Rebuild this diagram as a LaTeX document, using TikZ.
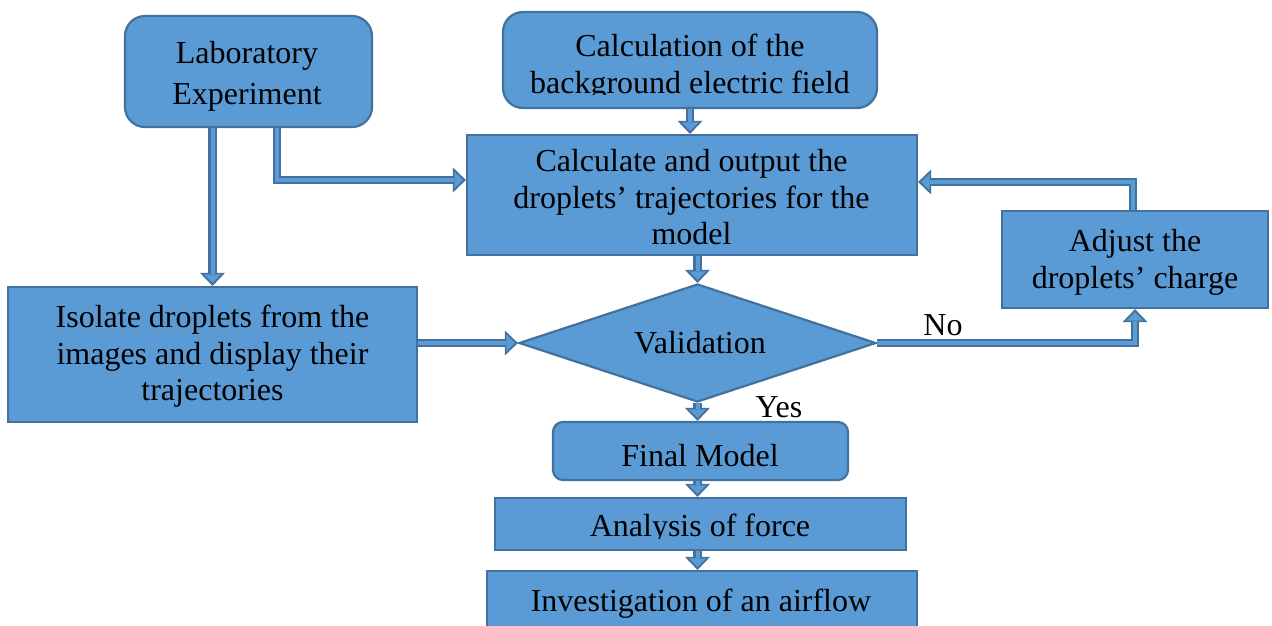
\documentclass[tikz,border=0pt]{standalone}
\usepackage{fontspec}
\setmainfont{Liberation Serif}
\usetikzlibrary{shapes.geometric,arrows.meta,calc}
\definecolor{boxfill}{HTML}{5B9BD5}
\definecolor{boxedge}{HTML}{41719C}
\tikzset{
  box/.style={draw=boxedge, fill=boxfill, line width=2.2pt, inner sep=0pt},
  txt/.style={align=center, inner sep=0pt, text=black, font=\fontsize{32}{36.5}\selectfont},
  connout/.style={draw=boxedge, line width=8.5pt, line join=miter,
    -{Triangle[width=25pt,length=13pt,line width=0pt]}},
  connin/.style={draw=boxfill, line width=4pt, line join=miter, shorten >=3pt,
    -{Triangle[width=17pt,length=8.5pt,line width=0pt]}},
}
\newcommand\dconn[1]{\draw[connout] #1; \draw[connin] #1;}
\begin{document}
\begin{tikzpicture}[x=1pt,y=-1pt]
\clip (0,0) rectangle (1272,625);
\fill[white] (0,0) rectangle (1272,625);

% boxes
\node[box, rounded corners=20pt, minimum width=247pt, minimum height=111pt] (lab) at (248.5,71.5) {};
\node[txt, font=\fontsize{32}{41}\selectfont] (labtext) at (247,76) {\strut Laboratory\\Experiment\strut};

\node[box, rounded corners=20pt, minimum width=374pt, minimum height=96pt] (bg) at (690,60) {};
\begin{scope}
  \clip (503,12) rectangle (877,94);
  \node[txt] (bgtext) at (690,67.5) {\strut Calculation of the\\background electric field\strut};
\end{scope}

\node[box, minimum width=450pt, minimum height=120pt] (calc) at (692,195) {};
\begin{scope}
  \clip (467,135) rectangle (917,244.5);
  \node[txt] (calctext) at (691.5,201) {\strut Calculate and output the\\droplets’ trajectories for the\\model\strut};
\end{scope}

\node[box, minimum width=266pt, minimum height=97pt] (adj) at (1135,259.5) {};
\node[txt] (adjtext) at (1135,262.5) {\strut Adjust the\\droplets’ charge\strut};

\node[box, minimum width=409pt, minimum height=135pt] (iso) at (212.5,354.5) {};
\node[txt] (isotext) at (212.5,357) {\strut Isolate droplets from the\\images and display their\\trajectories\strut};

\node[diamond, aspect=3, box, minimum width=357pt, minimum height=118pt] (val) at (697.5,343) {};
\node[txt] (valtext) at (700,346) {\strut Validation\strut};

\node[box, rounded corners=10pt, minimum width=295pt, minimum height=58pt] (final) at (700.5,451) {};
\node[txt] (finaltext) at (700,459) {\strut Final Model\strut};

\node[box, minimum width=411pt, minimum height=52pt] (ana) at (700.5,524) {};
\begin{scope}
  \clip (495,498) rectangle (906,538);
  \node[txt] (anatext) at (700,529) {\strut Analysis of force\strut};
\end{scope}

\node[box, minimum width=430pt, minimum height=79pt] (inv) at (702,610.5) {};
\node[txt] (invtext) at (701,604) {\strut Investigation of an airflow\strut};

% labels
\node[txt] (no) at (943,328) {\strut No\strut};
\node[txt] (yes) at (779,410) {\strut Yes\strut};

% connectors
\dconn{(lab.south -| iso.north) -- (iso.north)}
\dconn{([xshift=28.5pt]lab.south) |- ([yshift=15pt]calc.west)}
\dconn{(bg.south) -- (bg.south |- calc.north)}
\dconn{(calc.south -| val.north) -- (val.north)}
\dconn{(iso.east |- val.west) -- (val.west)}
\dconn{(val.east) -| (adj.south)}
\dconn{([xshift=-2pt]adj.north) |- ([yshift=13pt]calc.east)}
\dconn{(val.south) -- (val.south |- final.north)}
\dconn{(final.south -| val.south) -- (val.south |- ana.north)}
\dconn{(ana.south -| val.south) -- (val.south |- inv.north)}
\end{tikzpicture}
\end{document}
